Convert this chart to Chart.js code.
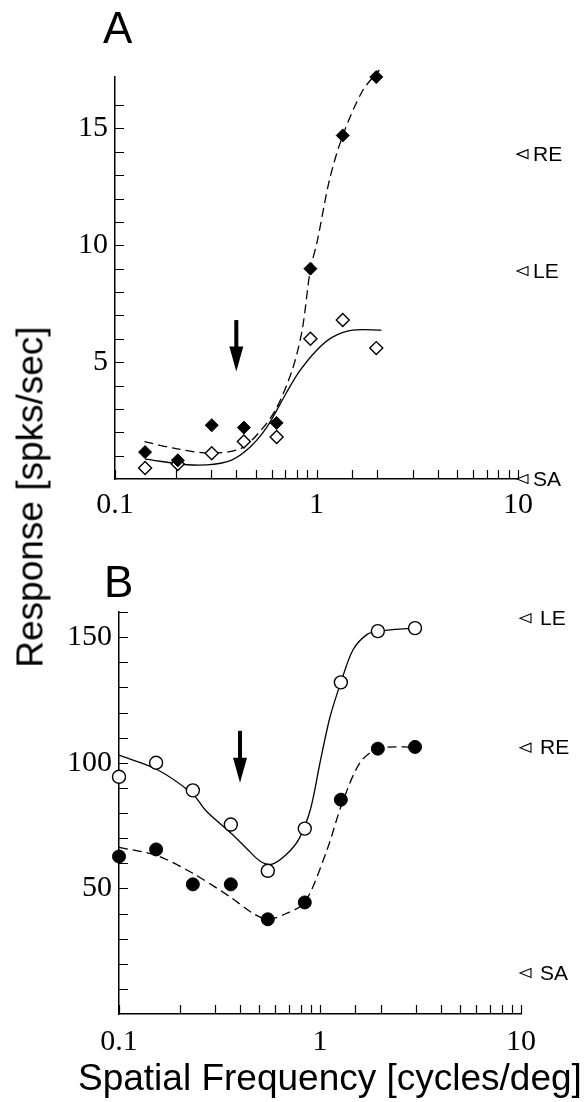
<!DOCTYPE html>
<html>
<head>
<meta charset="utf-8">
<script src="https://cdn.jsdelivr.net/npm/chart.js@4/dist/chart.umd.min.js"></script>
<style>
  html, body { margin: 0; padding: 0; background: #fff; }
  body { width: 585px; height: 1102px; position: relative; overflow: hidden; font-family: "Liberation Sans", Arial, sans-serif; color: #000; }
  canvas { position: absolute; left: 0; }
  #chartA { top: 0; }
  #chartB { top: 530px; }
  .lbl { position: absolute; line-height: 1; white-space: nowrap; }
  .panel { font-size: 44px; }
  #yTitle { font-size: 37px; left: 30px; top: 497px; transform: translate(-50%, -50%) rotate(-90deg); }
  #xTitle { font-size: 37px; left: 78px; top: 1059px; }
</style>
</head>
<body>
<canvas id="chartA" width="585" height="530"></canvas>
<canvas id="chartB" width="585" height="572"></canvas>
<div class="lbl panel" style="left:103px; top:6px">A</div>
<div class="lbl panel" style="left:104px; top:560px">B</div>
<div class="lbl" id="yTitle">Response [spks/sec]</div>
<div class="lbl" id="xTitle">Spatial Frequency [cycles/deg]</div>
<script>
// panel A: measured points (diamonds)
const freqA = [0.141, 0.205, 0.302, 0.436, 0.634, 0.933, 1.35, 1.98];
const filledA = [1.15, 0.8, 2.3, 2.2, 2.4, 9.0, 14.7, 17.2];
const openA = [0.47, 0.64, 1.1, 1.6, 1.8, 6.0, 6.8, 5.6];
// panel A: fitted curves
const fitFilledAx = [0.14, 0.2, 0.3, 0.42, 0.52, 0.63, 0.76, 0.85, 0.93, 1.01, 1.16, 1.35, 1.69, 2.05];
const fitFilledAy = [1.6, 1.3, 1.1, 1.3, 2.0, 3.0, 4.7, 6.4, 8.9, 10.2, 12.8, 14.7, 16.6, 17.5];
const fitOpenAx = [0.141, 0.243, 0.358, 0.451, 0.565, 0.71, 0.822, 1.0, 1.2, 1.51, 2.1];
const fitOpenAy = [0.85, 0.6, 0.73, 1.24, 2.2, 3.7, 4.6, 5.5, 6.07, 6.37, 6.37];

// panel B: measured points (circles)
const freqB = [0.1, 0.153, 0.233, 0.36, 0.55, 0.84, 1.27, 1.94, 2.97];
const openB = [94.4, 100, 89, 75.4, 57, 73.8, 132, 152.4, 153.6];
const filledB = [62.7, 65.5, 51.6, 51.6, 37.7, 44.4, 85.3, 105.6, 106.3];
// panel B: fitted curves
const fitOpenBx = [0.1, 0.153, 0.233, 0.27, 0.36, 0.43, 0.5, 0.57, 0.68, 0.79, 0.9, 1.0, 1.12, 1.27, 1.46, 1.71, 1.94, 2.97];
const fitOpenBy = [103, 97.5, 87.5, 81, 72, 66, 61, 59.5, 63.5, 70, 82, 100, 118, 132, 145, 151, 152.4, 153.6];
const fitFilledBx = [0.1, 0.153, 0.233, 0.36, 0.465, 0.55, 0.68, 0.84, 1.08, 1.29, 1.58, 1.94, 2.97];
const fitFilledBy = [66.3, 63.2, 56, 46.4, 40, 37.7, 40, 44.4, 65, 84, 100, 105.6, 106.3];

// axes
const xTickLabels = [0.1, 1, 10];
const yLabelsA = [5, 10, 15];
const yLabelsB = [50, 100, 150];

// reference levels on the right
const refNames = ['RE', 'LE', 'SA'];
const refLevelsA = [13.9, 8.9, 0];
const refNamesB = ['LE', 'RE', 'SA'];
const refLevelsB = [157.5, 106, 16.3];

// arrows: [frequency, top value, tip value]
const arrowA = [0.4, 6.8, 4.6];
const arrowB = [0.4, 112.7, 92];

const pts = (xs, ys) => xs.map((x, i) => ({ x, y: ys[i] }));

const innerTicks = {
  id: 'innerTicks',
  afterDraw(chart, args, opts) {
    const { ctx, chartArea, scales } = chart;
    ctx.save();
    ctx.strokeStyle = '#000';
    ctx.lineWidth = 1.2;
    ctx.beginPath();
    scales.x.ticks.forEach(t => {
      const px = Math.round(scales.x.getPixelForValue(t.value)) + 0.5;
      ctx.moveTo(px, chartArea.bottom);
      ctx.lineTo(px, chartArea.bottom - opts.len);
    });
    scales.y.ticks.forEach(t => {
      const k = t.value / opts.step;
      if (t.value === 0 || Math.abs(k - Math.round(k)) > 1e-6) return;
      const py = Math.round(scales.y.getPixelForValue(t.value)) + 0.5;
      ctx.moveTo(chartArea.left, py);
      ctx.lineTo(chartArea.left + opts.len, py);
    });
    ctx.stroke();
    ctx.restore();
  }
};

const refMarks = {
  id: 'refMarks',
  afterDraw(chart, args, opts) {
    const { ctx, chartArea, scales } = chart;
    ctx.save();
    ctx.strokeStyle = '#000';
    ctx.fillStyle = '#000';
    ctx.lineWidth = 1.1;
    ctx.font = '21px "Liberation Sans", Arial, sans-serif';
    ctx.textBaseline = 'middle';
    opts.names.forEach((name, i) => {
      const py = scales.y.getPixelForValue(opts.levels[i]);
      const x0 = chartArea.right + opts.tip;
      ctx.beginPath();
      ctx.moveTo(x0, py);
      ctx.lineTo(x0 + 11, py - 4.5);
      ctx.lineTo(x0 + 11, py + 4.5);
      ctx.closePath();
      ctx.stroke();
      ctx.fillText(name, chartArea.right + opts.text, py + 1);
    });
    ctx.restore();
  }
};

const arrowMark = {
  id: 'arrowMark',
  afterDraw(chart, args, opts) {
    const { ctx, scales } = chart;
    const px = scales.x.getPixelForValue(opts.arrow[0]);
    const top = scales.y.getPixelForValue(opts.arrow[1]);
    const tip = scales.y.getPixelForValue(opts.arrow[2]);
    const head = 25;
    ctx.save();
    ctx.fillStyle = '#000';
    ctx.fillRect(px - 2, top, 4, tip - top - head + 2);
    ctx.beginPath();
    ctx.moveTo(px - 7, tip - head);
    ctx.lineTo(px + 7, tip - head);
    ctx.lineTo(px, tip);
    ctx.closePath();
    ctx.fill();
    ctx.restore();
  }
};

function curve(data, dashed) {
  return {
    data, showLine: true, pointRadius: 0, borderColor: '#000', borderWidth: 1.3,
    borderDash: dashed ? [9, 5] : [], tension: 0.3, clip: false
  };
}

function marks(data, style, filled, r) {
  return {
    data, showLine: false, pointStyle: style, pointRadius: r,
    backgroundColor: filled ? '#000' : '#fff', borderColor: '#000',
    borderWidth: filled ? 1 : 1.4, clip: false
  };
}

function makeChart(id, cfg) {
  const tickFont = { family: '"Liberation Serif", "Times New Roman", serif', size: 30 };
  return new Chart(document.getElementById(id), {
    type: 'scatter',
    data: { datasets: cfg.datasets },
    options: {
      responsive: false,
      animation: false,
      devicePixelRatio: 1,
      layout: { padding: { top: cfg.top, right: cfg.right, left: 0, bottom: 0 } },
      plugins: {
        legend: { display: false },
        tooltip: { enabled: false },
        innerTicks: { len: 9, step: cfg.step },
        refMarks: { names: cfg.names, levels: cfg.levels, tip: -1, text: cfg.textOff },
        arrowMark: { arrow: cfg.arrow }
      },
      scales: {
        x: {
          type: 'logarithmic', min: 0.1, max: 10,
          grid: { display: false, drawTicks: false },
          border: { display: true, color: '#000', width: 1.5 },
          afterFit: s => { s.height = cfg.xh; },
          ticks: {
            autoSkip: false, maxRotation: 0, color: '#000', font: tickFont, padding: cfg.xpad,
            callback: v => {
              const hit = xTickLabels.find(l => Math.abs(v - l) / l < 1e-6);
              return hit === undefined ? '' : String(hit);
            }
          }
        },
        y: {
          min: 0, max: cfg.ymax,
          grid: { display: false, drawTicks: false },
          border: { display: true, color: '#000', width: 1.5 },
          afterFit: s => { s.width = cfg.yw; },
          ticks: {
            stepSize: cfg.step, autoSkip: false, color: '#000', font: tickFont, padding: 7,
            callback: v => cfg.ylabels.includes(v) ? String(v) : ''
          }
        }
      }
    },
    plugins: [innerTicks, refMarks, arrowMark]
  });
}

makeChart('chartA', {
  datasets: [
    marks(pts(freqA, filledA), 'rectRot', true, 6.5),
    marks(pts(freqA, openA), 'rectRot', false, 6.5),
    curve(pts(fitFilledAx, fitFilledAy), true),
    curve(pts(fitOpenAx, fitOpenAy), false)
  ],
  top: 77, right: 67, yw: 115, xh: 51, xpad: 8, ymax: 17.2, step: 1,
  ylabels: yLabelsA, names: refNames, levels: refLevelsA, textOff: 15, arrow: arrowA
});

makeChart('chartB', {
  datasets: [
    marks(pts(freqB, openB), 'circle', false, 6.5),
    marks(pts(freqB, filledB), 'circle', true, 6.5),
    curve(pts(fitOpenBx, fitOpenBy), false),
    curve(pts(fitFilledBx, fitFilledBy), true)
  ],
  top: 82, right: 64, yw: 119, xh: 88, xpad: 10, ymax: 160, step: 10,
  ylabels: yLabelsB, names: refNamesB, levels: refLevelsB, textOff: 19, arrow: arrowB
});
</script>
</body>
</html>
